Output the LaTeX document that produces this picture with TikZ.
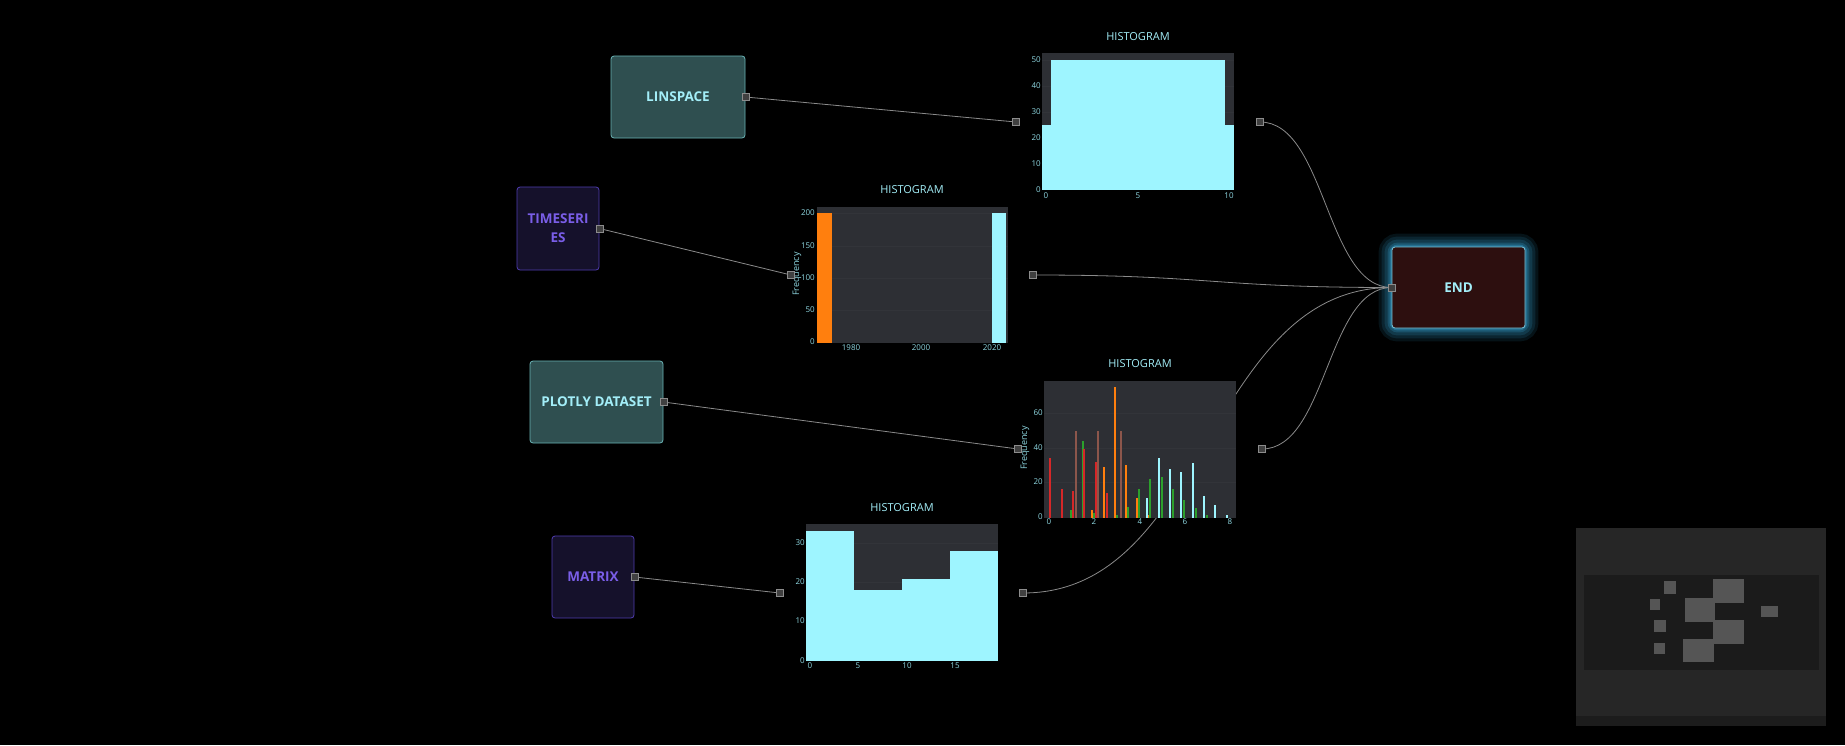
\documentclass[tikz,border=0pt]{standalone}
\usepackage{fontspec}
\setmainfont{Open Sans}
\usetikzlibrary{calc}

\definecolor{tealfill}{HTML}{2F4F50}
\definecolor{tealbordo}{HTML}{6AB3B5}
\definecolor{ciano}{HTML}{A3EEF8}
\definecolor{navyfill}{HTML}{15112B}
\definecolor{navybordo}{HTML}{4F3CB0}
\definecolor{viola}{HTML}{7A5EE8}
\definecolor{finefill}{HTML}{2D0F0F}
\definecolor{finebordo}{HTML}{7CC6DA}
\definecolor{alone}{HTML}{3AB4E8}
\definecolor{plotbg}{HTML}{2D2F34}
\definecolor{griglia}{HTML}{323439}
\definecolor{barra}{HTML}{9EF5FF}
\definecolor{tickc}{HTML}{8FD8E2}
\definecolor{arcocol}{HTML}{8A8A8A}
\definecolor{portafill}{HTML}{404040}
\definecolor{portabordo}{HTML}{8C8C8C}
\definecolor{rosso}{HTML}{D62728}
\definecolor{verde}{HTML}{2CA02C}
\definecolor{arancio}{HTML}{FF7F0E}
\definecolor{marrone}{HTML}{8C564B}
\definecolor{mmbg}{HTML}{262626}
\definecolor{mmpiede}{HTML}{1C1C1C}
\definecolor{mmvista}{HTML}{1B1B1B}
\definecolor{mmnodo}{HTML}{555555}

\pgfdeclarelayer{sfondo}
\pgfdeclarelayer{archi}
\pgfsetlayers{sfondo,archi,main}

\begin{document}
\begin{tikzpicture}[x=1pt, y=-1pt,
    blocco/.style = {draw, rounded corners=3pt, line width=0.8pt, inner sep=0pt, align=center, font=\bfseries\fontsize{13.5}{19}\selectfont},
    bloccoT/.style = {blocco, draw=tealbordo, fill=tealfill, text=ciano},
    bloccoV/.style = {blocco, draw=navybordo, fill=navyfill, text=viola},
    bloccoF/.style = {blocco, draw=finebordo, fill=finefill, text=ciano},
    porta/.style = {draw=portabordo, fill=portafill, line width=0.8pt, minimum size=7pt, inner sep=0pt},
    dritto/.style = {draw=arcocol, line width=0.8pt},
    arco/.style = {draw=arcocol, line width=0.8pt, to path={let \p1=(\tikztostart), \p2=(\tikztotarget), \n1={0.5*(\x2-\x1)} in .. controls +(\n1,0) and +(-\n1,0) .. (\tikztotarget)}},
    titolo/.style = {text=ciano, font=\fontsize{11}{13}\selectfont, inner sep=0pt},
    tky/.style = {text=tickc, font=\fontsize{8}{9}\selectfont, inner sep=0pt, anchor=east},
    tkx/.style = {text=tickc, font=\fontsize{8}{9}\selectfont, inner sep=0pt},
    asse/.style = {text=tickc, font=\fontsize{9}{10}\selectfont, inner sep=0pt, rotate=90}]
    \useasboundingbox (0,0) rectangle (1845,745);
    \begin{pgfonlayer}{sfondo}
        \fill[black] (0,0) rectangle (1845,745);
    \end{pgfonlayer}

    % Disegna i blocchi sorgente e il blocco finale
    \node[bloccoT, minimum width=134pt, minimum height=82pt] (lin) at (678,97) {LINSPACE};
    \node[bloccoV, minimum width=82pt, minimum height=83pt] (ts) at (558,228.5) {TIMESERI\\ES};
    \node[bloccoT, minimum width=133pt, minimum height=82pt] (pd) at (596.5,402) {PLOTLY DATASET};
    \node[bloccoV, minimum width=82pt, minimum height=82pt] (mx) at (593,577) {MATRIX};
    \node[bloccoF, minimum width=133pt, minimum height=81pt] (fine) at (1458.5,287.5) {END};

    % alone attorno al blocco END
    \begin{pgfonlayer}{sfondo}
        \foreach \w/\o in {26/0.10,20/0.12,14/0.15,8/0.2,4/0.3}
            \draw[alone, line width=\w pt, opacity=\o, rounded corners=6pt] (fine.south west) rectangle (fine.north east);
    \end{pgfonlayer}

    % Istogramma 1 (linspace)
    \node[titolo] (h1) at (1138,37) {HISTOGRAM};
    \fill[plotbg] (1042,53) rectangle (1234,190);
    \foreach \y in {60,86,112,138,164} \draw[griglia, line width=0.5pt] (1042,\y) -- (1234,\y);
    \fill[barra] (1042,125) rectangle (1051,190);
    \fill[barra] (1051,60) rectangle (1225,190);
    \fill[barra] (1225,125) rectangle (1234,190);
    \foreach \v/\y in {0/190,10/164,20/138,30/112,40/86,50/60} \node[tky] at (1041,\y) {\v};
    \foreach \v/\x in {0/1046,5/1138,10/1229} \node[tkx] at (\x,196) {\v};

    % Istogramma 2 (timeseries)
    \node[titolo] (h2) at (912,190) {HISTOGRAM};
    \fill[plotbg] (817,207) rectangle (1008,343);
    \foreach \y in {213,246,278,310} \draw[griglia, line width=0.5pt] (817,\y) -- (1008,\y);
    \fill[arancio] (817,213) rectangle (832,343);
    \fill[barra] (992,213) rectangle (1006,343);
    \foreach \v/\y in {0/342,50/310,100/278,150/246,200/213} \node[tky] at (815,\y) {\v};
    \foreach \v/\x in {1980/851,2000/921,2020/992} \node[tkx] at (\x,348) {\v};
    \node[asse] at (797,274) {Frequency};

    % Istogramma 3 (plotly dataset)
    \node[titolo] (h3) at (1140,364) {HISTOGRAM};
    \fill[plotbg] (1044,381) rectangle (1236,518);
    \foreach \y in {413,448,482} \draw[griglia, line width=0.5pt] (1044,\y) -- (1236,\y);
    \foreach \x/\t/\c in {1050/458.3/rosso, 1061.7/489.3/rosso, 1071/510/verde, 1073/491/rosso,
        1076/430.7/marrone, 1082.7/441/verde, 1084/449.3/rosso, 1092.3/510/arancio, 1094/513.3/verde,
        1095.7/461.7/rosso, 1098.3/430.7/marrone, 1104/467/arancio, 1106.7/493.3/rosso, 1115/387.3/arancio,
        1116.7/515/verde, 1120.7/430.7/marrone, 1126/465.3/arancio, 1128/506.7/verde, 1137.3/498/arancio,
        1139/489/verde, 1147.3/498/barra, 1148.7/515/arancio, 1150.3/479/verde, 1158.7/458/barra,
        1162/477/verde, 1170/468.7/barra, 1173/489/verde, 1181.3/472/barra, 1184.3/499.7/verde,
        1192.7/463.3/barra, 1196/508/verde, 1204/496/barra, 1207/515/verde, 1215/505/barra, 1226.7/515/barra}
        \fill[\c] (\x-1,\t) rectangle (\x+1,517.7);
    \foreach \v/\y in {0/517,20/482,40/448,60/413} \node[tky] at (1043,\y) {\v};
    \foreach \v/\x in {0/1049,2/1094,4/1140,6/1185,8/1230} \node[tkx] at (\x,522) {\v};
    \node[asse] at (1025,448) {Frequency};

    % Istogramma 4 (matrix)
    \node[titolo] (h4) at (902,508) {HISTOGRAM};
    \fill[plotbg] (806,524) rectangle (998,661);
    \foreach \y in {543,582,621} \draw[griglia, line width=0.5pt] (806,\y) -- (998,\y);
    \fill[barra] (806,531) rectangle (854,661);
    \fill[barra] (854,590) rectangle (902,661);
    \fill[barra] (902,579) rectangle (950,661);
    \fill[barra] (950,551) rectangle (998,661);
    \foreach \v/\y in {0/661,10/621,20/582,30/543} \node[tky] at (805,\y) {\v};
    \foreach \v/\x in {0/810,5/858,10/907,15/955} \node[tkx] at (\x,666) {\v};

    % Disegna le porte
    \node[porta] (lin-out) at (lin.east) {};
    \node[porta] (ts-out) at (ts.east) {};
    \node[porta] (pd-out) at (pd.east) {};
    \node[porta] (mx-out) at (mx.east) {};
    \node[porta] (fine-in) at (fine.west) {};
    \node[porta] (h1-in) at (1016,122) {};
    \node[porta] (h1-out) at (1260,122) {};
    \node[porta] (h2-in) at (791,275) {};
    \node[porta] (h2-out) at (1033,275) {};
    \node[porta] (h3-in) at (1018,449) {};
    \node[porta] (h3-out) at (1262,449) {};
    \node[porta] (h4-in) at (780,593) {};
    \node[porta] (h4-out) at (1023,593) {};

    % Disegna gli archi
    \begin{pgfonlayer}{archi}
        \draw[dritto] (lin-out.center) -- (h1-in.center);
        \draw[dritto] (ts-out.center) -- (h2-in.center);
        \draw[dritto] (pd-out.center) -- (h3-in.center);
        \draw[dritto] (mx-out.center) -- (h4-in.center);
        \draw[arco] (h1-out.center) to (fine-in.center);
        \draw[arco] (h2-out.center) to (fine-in.center);
        \draw[arco] (h3-out.center) to (fine-in.center);
        \draw[arco] (h4-out.center) to (fine-in.center);
    \end{pgfonlayer}

    % minimappa
    \fill[mmbg] (1576,528) rectangle (1826,726);
    \fill[mmpiede] (1576,716) rectangle (1826,726);
    \fill[mmvista] (1584,575) rectangle (1819,670);
    \foreach \a/\b/\c/\d in {1664/581/1676/594, 1650/599/1660/610, 1654/620/1666/632, 1654/643/1665/654,
        1685/598/1715/622, 1713/579/1744/603, 1713/620/1744/644, 1683/639/1714/662, 1761/606/1778/617}
        \fill[mmnodo] (\a,\b) rectangle (\c,\d);
\end{tikzpicture}
\end{document}
